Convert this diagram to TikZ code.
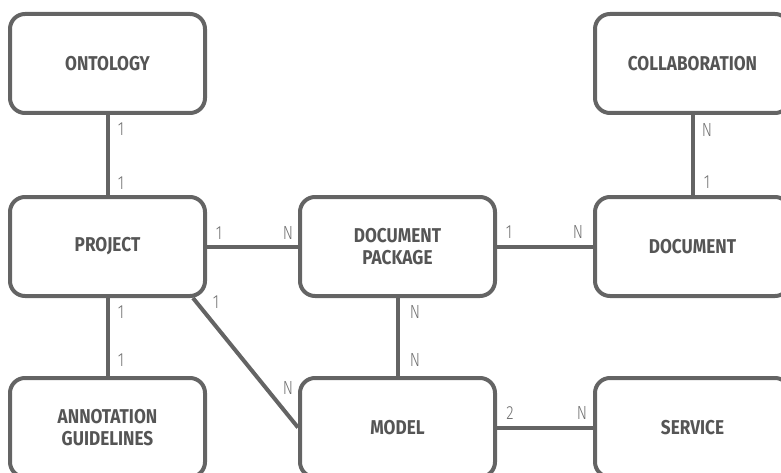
\documentclass[tikz,border=0pt]{standalone}
\usepackage{fontspec}
\setmainfont{Fira Sans}
\newfontfamily\entityfont[FakeStretch=0.86]{Fira Sans}
\newfontfamily\cardfont[FakeStretch=0.8]{Fira Sans Light}
\definecolor{linegray}{HTML}{646464}
\definecolor{textgray}{HTML}{555555}
\definecolor{cardgray}{HTML}{707070}
\tikzset{
  entity/.style={draw=linegray, line width=4pt, rounded corners=15pt,
    minimum width=195pt, minimum height=99pt, inner sep=0pt, align=center,
    text=textgray, font=\entityfont\bfseries\fontsize{20}{22}\selectfont},
  link/.style={draw=linegray, line width=4pt},
  card/.style={text=cardgray, inner sep=0pt, font=\cardfont\fontsize{19}{19}\selectfont}
}
\begin{document}
\begin{tikzpicture}[x=1pt, y=-1pt]
  \useasboundingbox (0,0) rectangle (781,473);
  \clip (0,0) rectangle (781,473);

  % entities
  \node[entity] (ontology) at (107.5,63.5) {ONTOLOGY};
  \node[entity] (collab)   at (692.5,63.5) {COLLABORATION};
  \node[entity] (project)  at (107.5,246.5) {PROJECT};
  \node[entity] (docpkg)   at (397.5,246.5) {DOCUMENT\\PACKAGE};
  \node[entity] (document) at (692.5,246.5) {DOCUMENT};
  \node[entity] (annot)    at (107.5,427.5) {ANNOTATION\\GUIDELINES};
  \node[entity] (model)    at (397.5,427.5) {MODEL};
  \node[entity] (service)  at (692.5,427.5) {SERVICE};

  % relations
  \draw[link] (ontology) -- (project);
  \draw[link] (project) -- (annot);
  \draw[link] (project) -- (docpkg);
  \draw[link] (docpkg) -- (document);
  \draw[link] (collab) -- (document);
  \draw[link] (docpkg) -- (model);
  \draw[link] (model) -- (service);
  \draw[link] ([xshift=-14pt]project.south east) -- (model.west);

  % cardinalities
  \node[card] (c1)  at (121,129) {1};
  \node[card] (c2)  at (121,183) {1};
  \node[card] (c3)  at (121,312) {1};
  \node[card] (c4)  at (121,360) {1};
  \node[card] (c5)  at (219,233) {1};
  \node[card] (c6)  at (288,233) {N};
  \node[card] (c7)  at (509,232) {1};
  \node[card] (c8)  at (578,232) {N};
  \node[card] (c9)  at (707,130) {N};
  \node[card] (c10) at (707,182) {1};
  \node[card] (c11) at (415,312) {N};
  \node[card] (c12) at (415,360) {N};
  \node[card] (c13) at (216,302) {1};
  \node[card] (c14) at (288,388) {N};
  \node[card] (c15) at (510,413) {2};
  \node[card] (c16) at (582,413) {N};
\end{tikzpicture}
\end{document}
